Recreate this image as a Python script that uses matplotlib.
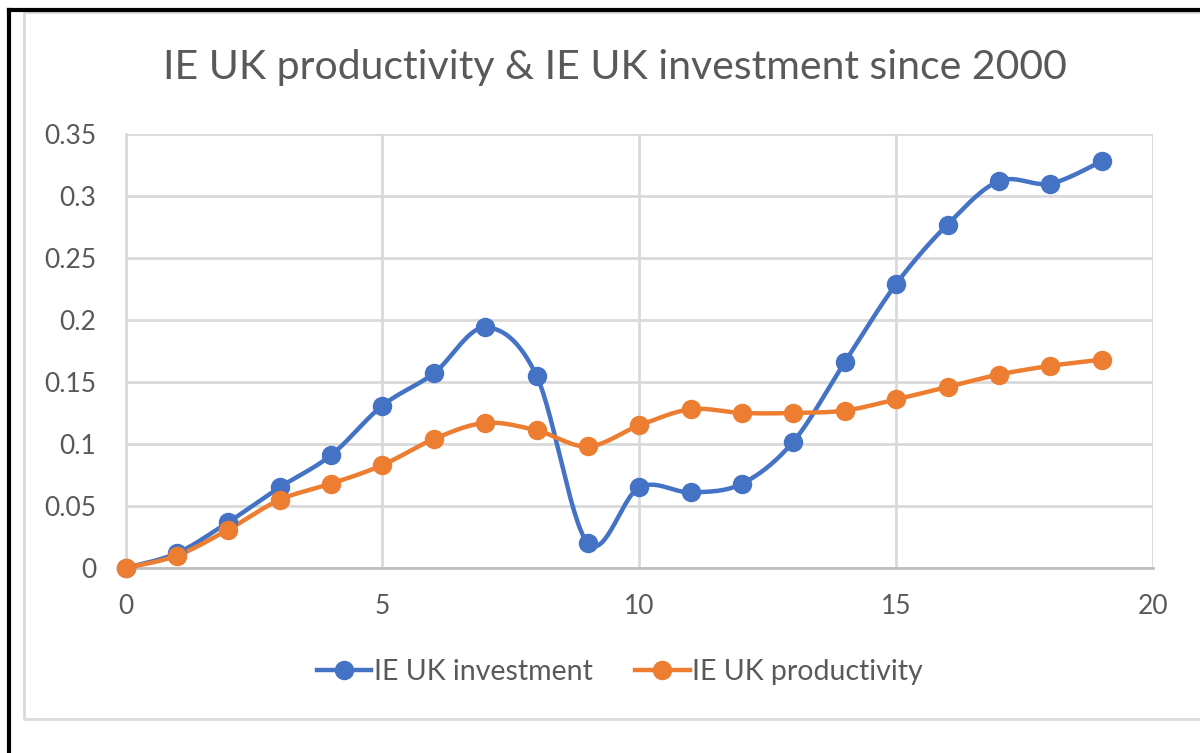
import numpy as np
import matplotlib.pyplot as plt
from matplotlib.lines import Line2D
from matplotlib.patches import Rectangle

# data (index 0..19 = years since 2000)
years = list(range(20))
investment = [0.0, 0.012, 0.037, 0.065, 0.091, 0.131, 0.157, 0.194, 0.155, 0.020,
              0.065, 0.061, 0.068, 0.102, 0.166, 0.229, 0.277, 0.312, 0.310, 0.328]
productivity = [0.0, 0.010, 0.031, 0.055, 0.068, 0.083, 0.104, 0.117, 0.111, 0.098,
                0.115, 0.128, 0.125, 0.125, 0.127, 0.136, 0.146, 0.156, 0.163, 0.168]

title = "IE UK productivity & IE UK investment since 2000"
blue = "#4472c4"
orange = "#ed7d31"
grey_text = "#595959"


def smooth(x, y, n=30):
    # Excel-style smoothed line (Catmull-Rom bezier through each point)
    x = np.asarray(x, float)
    y = np.asarray(y, float)
    px = np.concatenate([[x[0]], x, [x[-1]]])
    py = np.concatenate([[y[0]], y, [y[-1]]])
    xs, ys = [], []
    t = np.linspace(0, 1, n)
    for i in range(1, len(px) - 2):
        p0 = np.array([px[i], py[i]])
        p3 = np.array([px[i + 1], py[i + 1]])
        p1 = p0 + (p3 - np.array([px[i - 1], py[i - 1]])) / 6
        p2 = p3 - (np.array([px[i + 2], py[i + 2]]) - p0) / 6
        b = ((1 - t) ** 3)[:, None] * p0 + (3 * (1 - t) ** 2 * t)[:, None] * p1 \
            + (3 * (1 - t) * t ** 2)[:, None] * p2 + (t ** 3)[:, None] * p3
        xs.extend(b[:, 0])
        ys.extend(b[:, 1])
    return xs, ys


plt.rcParams['font.family'] = ['Lato', 'DejaVu Sans']

fig = plt.figure(figsize=(12, 7.53), dpi=100)
ax = fig.add_axes([125.6 / 1200, 1 - 568 / 753, (1153 - 125.6) / 1200, (568 - 134) / 753])

# outer frame: black lines on top/left, light grey chart border
fig.add_artist(Line2D([9 / 1200, 1], [1 - 9.5 / 753] * 2, color='black', lw=3))
fig.add_artist(Line2D([9 / 1200] * 2, [0, 1 - 9.5 / 753], color='black', lw=3))
fig.add_artist(Rectangle((24 / 1200, 1 - 719 / 753), 1.0, (719 - 12) / 753,
                         fill=False, edgecolor='#d9d9d9', lw=2))

for ys, c in [(investment, blue), (productivity, orange)]:
    sx, sy = smooth(years, ys)
    ax.plot(sx, sy, color=c, lw=3.2, solid_capstyle='round', zorder=3, clip_on=False)
    ax.plot(years, ys, 'o', color=c, ms=13, zorder=4, clip_on=False)

ax.set_xlim(0, 20)
ax.set_ylim(0, 0.35)
ax.set_xticks([0, 5, 10, 15, 20])
ax.set_yticks(np.arange(0, 0.351, 0.05))
ax.set_yticklabels(["0", "0.05", "0.1", "0.15", "0.2", "0.25", "0.3", "0.35"])
ax.grid(True, color='#d9d9d9', lw=2)
ax.set_axisbelow(True)
for s in ['top', 'right']:
    ax.spines[s].set_visible(False)
ax.spines['left'].set_color('#d9d9d9')
ax.spines['left'].set_linewidth(2)
ax.spines['bottom'].set_color('#bfbfbf')
ax.spines['bottom'].set_linewidth(2)
ax.tick_params(length=0, labelsize=19, labelcolor=grey_text, pad=19)
ax.tick_params(axis='y', pad=21)

fig.text(615 / 1200, 1 - 68 / 753, title, ha='center', va='center',
         fontsize=29.5, color=grey_text)

handles = [Line2D([], [], color=blue, lw=3.2, marker='o', ms=13),
           Line2D([], [], color=orange, lw=3.2, marker='o', ms=13)]
fig.legend(handles, ["IE UK investment", "IE UK productivity"], loc='center',
           bbox_to_anchor=(620 / 1200, 1 - 672 / 753), ncol=2, frameon=False,
           fontsize=20.5, labelcolor=grey_text, handlelength=1.9, handletextpad=0.1,
           columnspacing=1.5)

fig.savefig("out.png", dpi=100)
